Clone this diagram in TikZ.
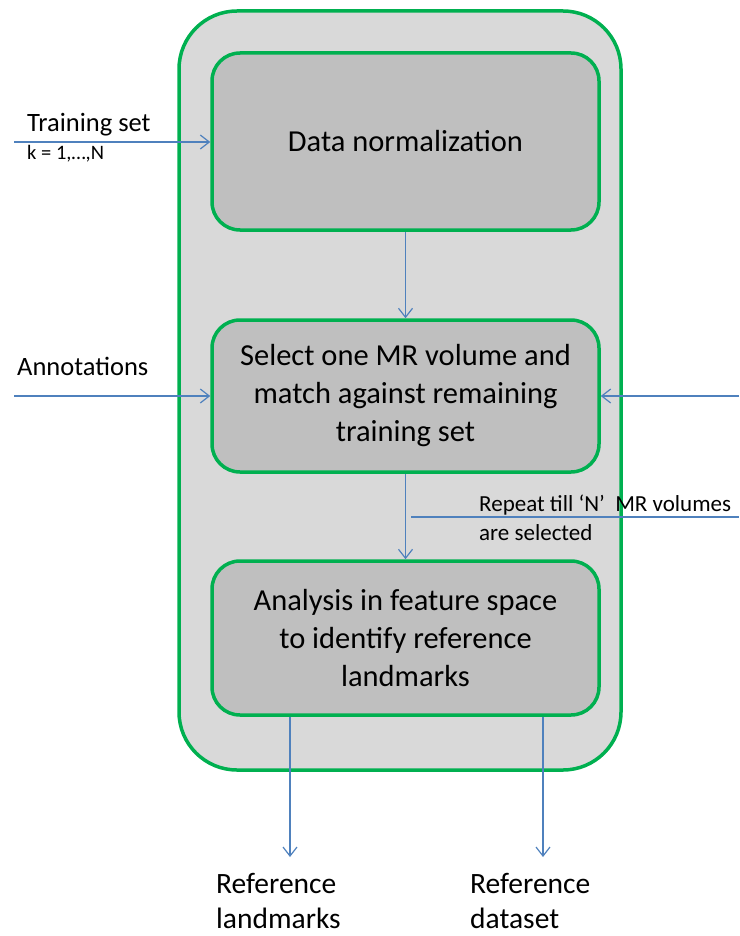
\documentclass[tikz,border=0pt]{standalone}
\usepackage{fontspec}
\setmainfont{Carlito}
\usetikzlibrary{arrows.meta,positioning}
\definecolor{boxgreen}{RGB}{0,176,80}
\definecolor{flowblue}{RGB}{79,129,189}
\definecolor{outerfill}{RGB}{217,217,217}
\definecolor{innerfill}{RGB}{191,191,191}
\begin{document}
\begin{tikzpicture}[x=1pt,y=-1pt,>={Straight Barb[length=9pt,width=14pt]},
	stage/.style={draw=boxgreen,line width=3.5pt,fill=innerfill,rounded corners=28pt,
		minimum width=387pt,align=center,font=\fontsize{30.5}{38}\selectfont},
	flow/.style={->,draw=flowblue,line width=1.2pt},
	lbl/.style={inner sep=0pt,anchor=west,font=\fontsize{26.5}{32}\selectfont},
	outlbl/.style={inner sep=0pt,anchor=north west,align=left,font=\fontsize{29.5}{35}\selectfont}]
	\useasboundingbox (0,0) rectangle (739,936);
	% grey frame and the three stages
	\node[draw=boxgreen,line width=3.5pt,fill=outerfill,rounded corners=58pt,
		minimum width=442pt,minimum height=759pt] (frame) at (400,390.5) {};
	\node[stage,minimum height=177pt] (norm) at (405.5,141.5) {Data normalization};
	\node[stage,minimum height=152pt] (select) at (405.5,396) {Select one MR volume and\\match against remaining\\training set};
	\node[stage,minimum height=154pt] (analysis) at (405.5,638) {Analysis in feature space\\to identify reference\\landmarks};
	% inputs
	\coordinate (tsin) at (14,142);
	\coordinate (anin) at (14,396);
	\coordinate (rpin) at (739,396);
	\node[lbl] (tslbl) at (27,125) {Training set};
	\node[lbl,font=\fontsize{20.5}{24}\selectfont] (klbl) at (27,154) {k = 1,…,N};
	\node[lbl] (anlbl) at (17,366) {Annotations};
	\draw[flow] (tsin) -- (norm.west |- tsin);
	\draw[flow] (anin) -- (select.west);
	\draw[flow] (rpin) -- (select.east);
	\draw[flow] (norm.south) -- (select.north);
	\draw[flow] (select.south) -- (analysis.north);
	% loop back
	\coordinate (rpl) at (411,517);
	\coordinate (rpr) at (739,517);
	\draw[flowblue,line width=1.2pt] (rpl) -- (rpr);
	\node[lbl,font=\fontsize{23}{27}\selectfont] (rplbl) at (479,505) {Repeat till ‘N’~ MR volumes};
	\node[lbl,font=\fontsize{23}{27}\selectfont] (sellbl) at (479,533) {are selected};
	% outputs
	\coordinate (lmout) at (290,857);
	\coordinate (dsout) at (543,857);
	\draw[flow] (lmout |- analysis.south) -- (lmout);
	\draw[flow] (dsout |- analysis.south) -- (dsout);
	\node[outlbl] (lmlbl) at (216,873) {Reference\\landmarks};
	\node[outlbl] (dslbl) at (470,873) {Reference\\dataset};
\end{tikzpicture}
\end{document}
